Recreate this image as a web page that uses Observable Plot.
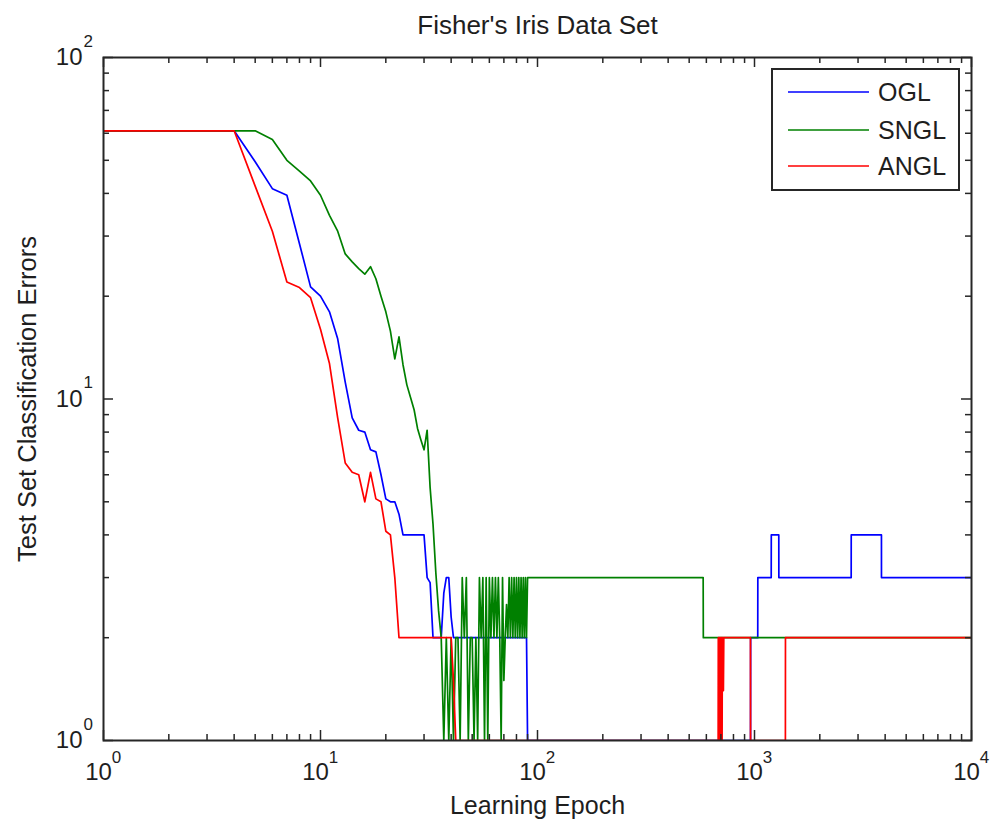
<!DOCTYPE html>
<html>
<head>
<meta charset="utf-8">
<script src="https://cdn.jsdelivr.net/npm/d3@7"></script>
<script src="https://cdn.jsdelivr.net/npm/@observablehq/plot@0.6"></script>
<style>
  body { margin: 0; background: #fff; }
  #chart { width: 993px; height: 825px; }
</style>
</head>
<body>
<div id="chart"></div>
<script>
// ---------- data: [epoch, test-set classification errors] ----------
const seriesNames = ["OGL", "SNGL", "ANGL"];
const seriesColors = ["#0000ff", "#008000", "#ff0000"];

const oglPoints = [
  [1,61],[4,61],[5,49.5],[6,41.3],[7,39.5],[8,28.5],[9,21.3],[10,20],[11,18],[12,15],
  [13,11.2],[14,8.8],[15,8.1],[16,8.0],[17,7.1],[18,7.0],[19,6.0],[20,5.1],[21,5],[22,5],
  [23,4.6],[24,4],[30,4],[31,3],[32,2.9],[33,2],[36,2],[37,2.7],[38,3],[39,3],[40,2.3],
  [41,2],[89,2],[90,1],[959,1],[960,2],[1035,2],[1036,3],[1194,3],[1195,4],[1294,4],
  [1295,3],[2790,3],[2791,4],[3846,4],[3847,3],[10000,3]
];

const snglPoints = [
  [1,61],[5,61],[6,57.5],[7,50],[8,46.5],[9,43.5],[10,39.5],[11,34.5],[12,31],[13,26.6],
  [14,25.2],[15,24.1],[16,23.2],[17,24.4],[18,22.5],[19,20],[20,18],[21,15.8],[22,13.1],
  [23,15.2],[24,12.6],[25,11],[26,10.1],[27,9.3],[28,8.2],[29,7.6],[30,7.1],[31,8.1],
  [32,5.5],[33,4.3],[34,3.1],[35,2.4],[36,2],[37,1],[38,2],[39,1],[40,2],[41,1],[42,2],
  [43,2],[44,1],[45,3],[46,2],[47,3],[48,1],[49,2],[50,2],[51,1],[52,2],[53,1],[54,3],
  [55,2],[56,3],[57,1],[58,3],[59,1],[60,3],[61,2],[62,3],[63,2],[64,3],[65,2],[66,3],
  [67,2],[68,1],[69,3],[70,1.5],[71,2],[72,2.5],[73,2],[74,3],[75,2],[76,3],[77,2],
  [78,3],[79,2],[80,3],[81,2],[82,3],[83,2],[84,3],[85,2],[86,3],[87,2],[88,3],[89,2],
  [90,3],[580,3],[581,2],[10000,2]
];

const anglPoints = [
  [1,61],[4,61],[5,42],[6,31],[7,22],[8,21.2],[9,19.8],[10,16],[11,12.7],[12,8.8],
  [13,6.5],[14,6.1],[15,6.0],[16,5.0],[17,6.1],[18,5.1],[19,5.0],[20,4.1],[21,4],[22,3],
  [23,2],[40,2],[41,1.5],[42,1],[680,1],[681,2],[684,1],[686,2],[689,1],[691,2],[694,1],
  [696,2],[699,1],[701,2],[704,1],[706,2],[709,1],[711,2],[714,1.4],[716,2],[719,1.4],
  [722,2],[958,2],[959,1],[1388,1],[1389,2],[10000,2]
];

// ---------- axes / ticks ----------
const xMajor = [1, 10, 100, 1000, 10000];
const xExponents = ["0", "1", "2", "3", "4"];
const yMajor = [1, 10, 100];
const yExponents = ["0", "1", "2"];
const minorMultipliers = [2, 3, 4, 5, 6, 7, 8, 9];
const xMinor = xMajor.slice(0, -1).flatMap(d => minorMultipliers.map(m => d * m));
const yMinor = yMajor.slice(0, -1).flatMap(d => minorMultipliers.map(m => d * m));

const titleText = "Fisher's Iris Data Set";
const xLabel = "Learning Epoch";
const yLabel = "Test Set Classification Errors";

// ---------- layout ----------
const W = 993, H = 825;
const mT = 57, mL = 103, mR = 22, mB = 85;
const plotW = W - mL - mR, plotH = H - mT - mB;
const minorLen = 6, majorLen = 10;
const axisColor = "#262626";
const textColor = "#1e1e1e";

const lineOpts = (pts, color) => Plot.line(pts, {
  x: d => d[0], y: d => d[1], stroke: color, strokeWidth: 1.7, clip: true
});

const chart = Plot.plot({
  width: W, height: H,
  marginTop: mT, marginLeft: mL, marginRight: mR, marginBottom: mB,
  x: { type: "log", domain: [1, 1e4], axis: null },
  y: { type: "log", domain: [1, 100], axis: null },
  style: { fontFamily: "'Liberation Sans', Arial, Helvetica, sans-serif", background: "white", color: textColor },
  marks: [
    lineOpts(oglPoints, seriesColors[0]),
    lineOpts(snglPoints, seriesColors[1]),
    lineOpts(anglPoints, seriesColors[2]),

    // inward ticks: bottom / top
    Plot.tickX(xMinor, { x: d => d, insetTop: plotH - minorLen, stroke: axisColor, strokeWidth: 1.5 }),
    Plot.tickX(xMinor, { x: d => d, insetBottom: plotH - minorLen, stroke: axisColor, strokeWidth: 1.5 }),
    Plot.tickX(xMajor, { x: d => d, insetTop: plotH - majorLen, stroke: axisColor, strokeWidth: 1.5 }),
    Plot.tickX(xMajor, { x: d => d, insetBottom: plotH - majorLen, stroke: axisColor, strokeWidth: 1.5 }),
    // inward ticks: left / right
    Plot.tickY(yMinor, { y: d => d, insetRight: plotW - minorLen, stroke: axisColor, strokeWidth: 1.5 }),
    Plot.tickY(yMinor, { y: d => d, insetLeft: plotW - minorLen, stroke: axisColor, strokeWidth: 1.5 }),
    Plot.tickY(yMajor, { y: d => d, insetRight: plotW - majorLen, stroke: axisColor, strokeWidth: 1.5 }),
    Plot.tickY(yMajor, { y: d => d, insetLeft: plotW - majorLen, stroke: axisColor, strokeWidth: 1.5 }),

    Plot.frame({ stroke: axisColor, strokeWidth: 2 }),

    // x tick labels 10^n
    Plot.text(xMajor, { x: d => d, frameAnchor: "bottom", text: d => "10", textAnchor: "middle", lineAnchor: "middle", dx: -5, dy: 32, fontSize: 24, fill: textColor }),
    Plot.text(xMajor, { x: d => d, frameAnchor: "bottom", text: (d, i) => xExponents[i], textAnchor: "middle", lineAnchor: "middle", dx: 13, dy: 17, fontSize: 17, fill: textColor }),
    // y tick labels 10^n
    Plot.text(yMajor, { y: d => d, frameAnchor: "left", text: d => "10", textAnchor: "end", lineAnchor: "middle", dx: -21, fontSize: 24, fill: textColor }),
    Plot.text(yMajor, { y: d => d, frameAnchor: "left", text: (d, i) => yExponents[i], textAnchor: "start", lineAnchor: "middle", dx: -20, dy: -16, fontSize: 17, fill: textColor }),

    // title and axis labels
    Plot.text([titleText], { frameAnchor: "top", textAnchor: "middle", lineAnchor: "middle", dy: -32, fontSize: 26, fill: textColor }),
    Plot.text([xLabel], { frameAnchor: "bottom", textAnchor: "middle", lineAnchor: "middle", dy: 65, fontSize: 25, fill: textColor }),
    Plot.text([yLabel], { frameAnchor: "left", textAnchor: "middle", lineAnchor: "middle", dx: -76, rotate: -90, fontSize: 25.5, fill: textColor })
  ]
});

document.getElementById("chart").appendChild(chart);

// ---------- legend (drawn into the same SVG) ----------
const svg = d3.select(chart);
const lg = svg.append("g").attr("class", "legend");
const lgX = 772, lgY = 69, lgW = 187, lgH = 121;
lg.append("rect").attr("x", lgX).attr("y", lgY).attr("width", lgW).attr("height", lgH)
  .attr("fill", "white").attr("stroke", axisColor).attr("stroke-width", 2);
const rowY = [92, 130, 166];
seriesNames.forEach((name, i) => {
  lg.append("line").attr("x1", 788).attr("x2", 869).attr("y1", rowY[i]).attr("y2", rowY[i])
    .attr("stroke", seriesColors[i]).attr("stroke-width", 1.7);
  lg.append("text").attr("x", 878).attr("y", rowY[i]).attr("dy", "0.35em")
    .attr("text-anchor", "start").attr("font-size", 25).attr("fill", textColor).text(name);
});
</script>
</body>
</html>
